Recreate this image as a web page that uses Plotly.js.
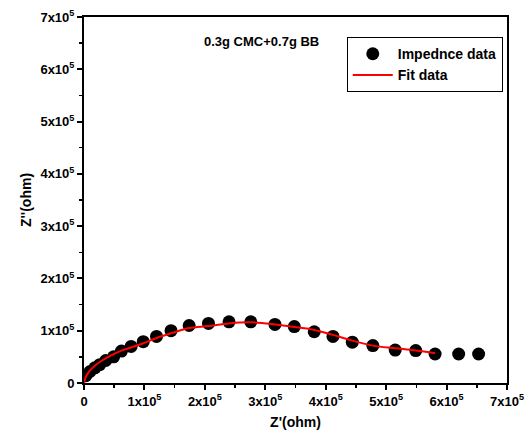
<!DOCTYPE html>
<html><head><meta charset="utf-8">
<script src="https://cdn.plot.ly/plotly-3.0.1.min.js"></script>
<style>body{margin:0;padding:0;background:#fff}#plot{width:528px;height:447px}</style>
</head><body><div id="plot"></div>
<script>
const dataZre = [0.03,0.10,0.18,0.26,0.36,0.49,0.62,0.78,0.98,1.20,1.44,1.74,2.06,2.40,2.76,3.16,3.48,3.81,4.12,4.44,4.78,5.15,5.49,5.81,6.20,6.53].map(v=>v*1e5);
const dataZim = [0.14,0.22,0.29,0.35,0.43,0.50,0.61,0.70,0.79,0.89,1.00,1.10,1.14,1.17,1.17,1.12,1.08,0.98,0.89,0.78,0.715,0.63,0.62,0.555,0.555,0.555].map(v=>v*1e5);
const fitZre = [0,0.02,0.05,0.10,0.20,0.30,0.45,0.60,0.78,0.98,1.20,1.44,1.74,2.06,2.40,2.76,3.16,3.48,3.81,4.12,4.44,4.78,5.15,5.49,5.81].map(v=>v*1e5);
const fitZim = [0,0.09,0.16,0.24,0.35,0.43,0.53,0.61,0.68,0.76,0.86,0.95,1.05,1.09,1.14,1.16,1.12,1.07,1.015,0.92,0.81,0.715,0.665,0.62,0.57].map(v=>v*1e5);
const tickVals = [0,1e5,2e5,3e5,4e5,5e5,6e5,7e5];
const tickText = ['0','1x10<sup>5</sup>','2x10<sup>5</sup>','3x10<sup>5</sup>','4x10<sup>5</sup>','5x10<sup>5</sup>','6x10<sup>5</sup>','7x10<sup>5</sup>'];

const font = {family:'Liberation Sans, Arial, sans-serif', color:'#000'};
const axisCommon = {
  range:[0,7e5], tickvals:tickVals, ticktext:tickText.map(t=>'<b>'+t+'</b>'), ticks:'outside', ticklen:5, tickwidth:2,
  tickcolor:'#000', showline:true, linewidth:2, linecolor:'#000', mirror:true,
  showgrid:false, zeroline:false,
  tickfont:Object.assign({size:13}, font),
  minor:{ticks:'outside', ticklen:3, tickwidth:1.5, tickcolor:'#000', dtick:5e4, showgrid:false}
};
const traces = [
  {x:dataZre, y:dataZim, mode:'markers', name:'<b>Impednce data</b>', marker:{color:'#000', size:13}},
  {x:fitZre, y:fitZim, mode:'lines', name:'<b>Fit data</b>', line:{color:'#ff0000', width:2, shape:'spline'}}
];
const layout = {
  width:528, height:447,
  margin:{l:84, r:21, t:17, b:64},
  paper_bgcolor:'#fff', plot_bgcolor:'#fff',
  font:font,
  xaxis:Object.assign({}, axisCommon, {title:{text:"<b>Z'(ohm)</b>", font:Object.assign({size:14}, font), standoff:10}}),
  yaxis:Object.assign({}, axisCommon, {title:{text:"<b>Z''(ohm)</b>", font:Object.assign({size:14}, font), standoff:6}}),
  showlegend:true,
  legend:{x:0.99, y:0.945, xanchor:'right', yanchor:'top', bordercolor:'#000', borderwidth:1,
    bgcolor:'#fff', font:Object.assign({size:14}, font), tracegroupgap:0, itemwidth:40},
  annotations:[{text:'<b>0.3g CMC+0.7g BB</b>', xref:'paper', yref:'paper', x:0.42, y:0.932,
    xanchor:'center', yanchor:'middle', showarrow:false, font:Object.assign({size:13}, font)}]
};
Plotly.newPlot('plot', traces, layout, {displayModeBar:false, staticPlot:true});
</script></body></html>
